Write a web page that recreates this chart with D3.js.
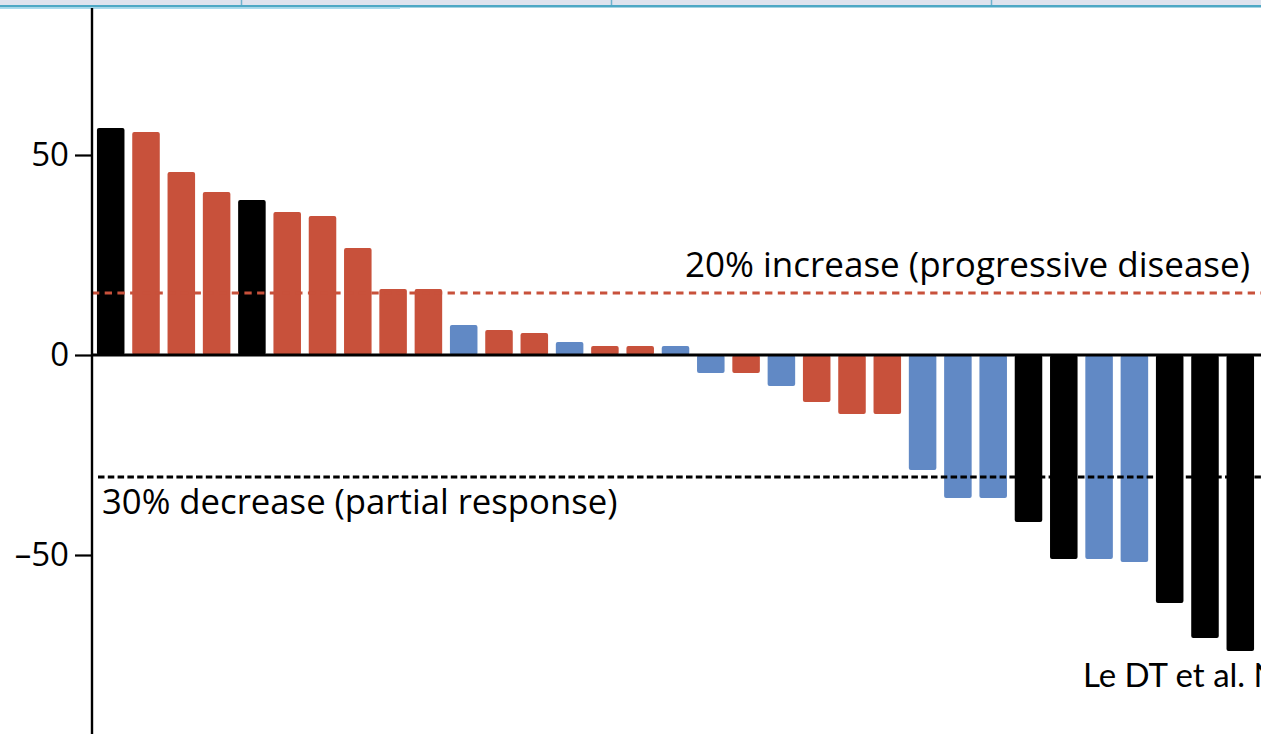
<!DOCTYPE html>
<html>
<head>
<meta charset="utf-8">
<script src="https://cdn.jsdelivr.net/npm/d3@7"></script>
<style>
  html, body { margin: 0; padding: 0; background: #fff; overflow: hidden; }
  svg { display: block; }
</style>
</head>
<body>
<svg id="chart" width="1261" height="734"></svg>
<script>
// Best percentage change in tumour size, one bar per patient, sorted high to low
const patients = d3.range(1, 34).map(i => "P" + i);
const changes = [56.75, 55.75, 45.75, 40.75, 38.75, 35.75, 34.75, 26.75, 16.5, 16.5,
                 7.5, 6.25, 5.5, 3.25, 2.25, 2.25, 2.25, -4.5, -4.5, -7.75,
                 -11.75, -14.75, -14.75, -28.75, -35.75, -35.75, -41.75, -51, -51, -51.75,
                 -62, -70.75, -74];
const groups = ["k", "r", "r", "r", "k", "r", "r", "r", "r", "r",
                "b", "r", "r", "b", "r", "r", "b", "b", "r", "b",
                "r", "r", "r", "b", "b", "b", "k", "k", "b", "b",
                "k", "k", "k"];
const yTicks = [-50, 0, 50];
const thresholdValues = [15.5, -30.5];
const thresholdLabels = ["20% increase (progressive disease)", "30% decrease (partial response)"];
const sourceNote = "Le DT et al. N Engl J Med 2015";

const colour = { k: "#000000", r: "#c8513b", b: "#6189c5" };
const font = "'Open Sans', sans-serif";

const svg = d3.select("#chart");
const W = 1261, H = 734;
const axisX = 92;

const x = d3.scaleBand()
  .domain(patients)
  .range([axisX, 1259])
  .paddingInner(0.22)
  .paddingOuter(0.14);

const y = d3.scaleLinear().domain([0, 50]).range([355, 155]);

// page header strip above the figure
const header = svg.append("g");
header.append("rect").attr("x", 0).attr("y", 0).attr("width", W).attr("height", 6).attr("fill", "#dfe3ee");
[241, 611, 991].forEach(px => {
  header.append("line").attr("x1", px + 0.5).attr("x2", px + 0.5).attr("y1", 0).attr("y2", 6)
    .attr("stroke", "#6fb3cf").attr("stroke-width", 1.5);
});
header.append("rect").attr("x", 0).attr("y", 5).attr("width", W).attr("height", 2.5).attr("fill", "#4ea8c5");
header.append("rect").attr("x", 0).attr("y", 7.5).attr("width", 400).attr("height", 1.5).attr("fill", "#a9dbee");

// bars
svg.append("g").selectAll("rect")
  .data(changes)
  .join("rect")
  .attr("x", (d, i) => x(patients[i]))
  .attr("width", x.bandwidth())
  .attr("y", d => y(Math.max(0, d)))
  .attr("height", d => Math.abs(y(d) - y(0)))
  .attr("rx", 2)
  .attr("fill", (d, i) => colour[groups[i]]);

// threshold lines
const thrColours = ["#c8513b", "#000000"];
const thrDash = ["7.3,5.4", "6.5,3.3"];
svg.append("g").selectAll("line")
  .data(thresholdValues)
  .join("line")
  .attr("x1", (d, i) => i === 0 ? axisX : 98)
  .attr("x2", W)
  .attr("y1", d => y(d))
  .attr("y2", d => y(d))
  .attr("stroke", (d, i) => thrColours[i])
  .attr("stroke-width", 3.2)
  .attr("stroke-dasharray", (d, i) => thrDash[i]);

// threshold labels
svg.append("text")
  .attr("x", 1250).attr("y", y(thresholdValues[0]) - 16)
  .attr("text-anchor", "end")
  .attr("font-family", font).attr("font-size", 35).attr("fill", "#000")
  .text(thresholdLabels[0]);
svg.append("text")
  .attr("x", 102).attr("y", y(thresholdValues[1]) + 37)
  .attr("font-family", font).attr("font-size", 34.7).attr("fill", "#000")
  .text(thresholdLabels[1]);

// zero line
svg.append("line")
  .attr("x1", axisX).attr("x2", W)
  .attr("y1", y(0)).attr("y2", y(0))
  .attr("stroke", "#000").attr("stroke-width", 3);

// y axis
const yAxis = d3.axisLeft(y).tickValues(yTicks).tickSize(17).tickPadding(6)
  .tickFormat(d => d < 0 ? "\u2013" + Math.abs(d) : String(d));
const gy = svg.append("g").attr("transform", `translate(${axisX},0)`).call(yAxis);
gy.select(".domain").remove();
gy.selectAll(".tick line").attr("stroke", "#000").attr("stroke-width", 2.2);
gy.selectAll(".tick text").attr("font-family", font).attr("font-size", 33).attr("fill", "#000");
svg.append("line")
  .attr("x1", axisX).attr("x2", axisX).attr("y1", 8).attr("y2", H)
  .attr("stroke", "#000").attr("stroke-width", 2.4);

// source note, running past the right edge of the figure
svg.append("text")
  .attr("x", 1083).attr("y", 687)
  .attr("font-family", "Lato, 'Open Sans', sans-serif").attr("font-size", 33).attr("fill", "#000")
  .text(sourceNote);
</script>
</body>
</html>
